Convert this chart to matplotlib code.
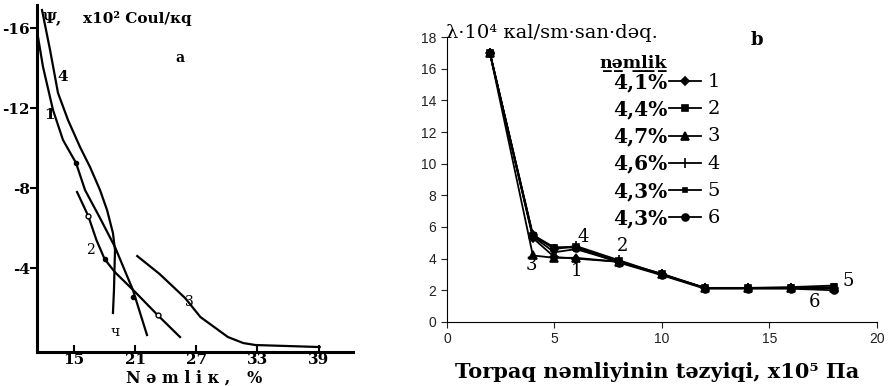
import matplotlib
matplotlib.use('Agg')
import matplotlib.pyplot as plt

# ---- panel a: Psi vs moisture (hand drawn curves) ----
c1_x = [11.27, 11.96, 12.94, 13.92, 15.2, 16.08, 17.55, 19.02, 20.78, 22.16]
c1_y = [-16.15, -14.05, -11.9, -10.4, -9.25, -7.9, -6.5, -5.05, -2.9, -0.65]
c2_x = [15.3, 16.4, 17.2, 18.0, 19.0, 21.0, 23.2, 25.4]
c2_y = [-7.8, -6.6, -5.4, -4.45, -3.8, -2.8, -1.65, -0.55]
c3_x = [21.2, 23.4, 25.9, 27.4, 30.1, 31.6, 32.8, 39.1]
c3_y = [-4.6, -3.7, -2.5, -1.55, -0.55, -0.25, -0.15, -0.05]
c4_x = [11.86, 12.65, 13.43, 14.41, 15.59, 16.57, 17.55, 18.24, 18.82, 19.02, 18.92, 18.82]
c4_y = [-16.9, -14.9, -12.75, -11.4, -10.05, -9.05, -7.9, -6.9, -5.75, -4.9, -2.9, -1.75]
dot_x = [15.2, 18.0, 20.8]
dot_y = [-9.25, -4.45, -2.55]
ring_x = [16.4, 23.2]
ring_y = [-6.6, -1.65]
a_xticks = [15, 21, 27, 33, 39]
a_yticks = [-16, -12, -8, -4]

# ---- panel b: conductivity vs pressure ----
b_x = [2, 4, 5, 6, 8, 10, 12, 14, 16, 18]
s1 = [17, 5.3, 4.1, 4.0, 3.8, 3.0, 2.15, 2.15, 2.15, 2.15]
s2 = [17, 5.4, 4.7, 4.75, 3.85, 3.0, 2.15, 2.15, 2.15, 2.2]
s3 = [17, 4.2, 4.05, 4.05, 3.8, 3.0, 2.15, 2.15, 2.15, 2.15]
s4 = [17, 5.5, 4.6, 4.8, 3.9, 3.0, 2.15, 2.15, 2.15, 2.15]
s5 = [17, 5.4, 4.4, 4.6, 3.8, 3.05, 2.15, 2.15, 2.2, 2.3]
s6 = [17, 5.5, 4.7, 4.7, 3.75, 2.95, 2.1, 2.1, 2.1, 2.0]
moist = ['4,1%', '4,4%', '4,7%', '4,6%', '4,3%', '4,3%']
nums = ['1', '2', '3', '4', '5', '6']

serif = ['DejaVu Serif']
fig = plt.figure(figsize=(8.92, 3.86), dpi=100)

# left panel
ax1 = fig.add_axes([0.0415, 0.088, 0.354, 0.899])
for xs, ys in [(c1_x, c1_y), (c2_x, c2_y), (c3_x, c3_y), (c4_x, c4_y)]:
    ax1.plot(xs, ys, color='black', lw=1.6, solid_joinstyle='round')
ax1.plot(dot_x, dot_y, 'o', color='black', ms=3)
ax1.plot(ring_x, ring_y, 'o', mfc='white', mec='black', ms=3.5, mew=1)
ax1.set_xlim(11.37, 42.35)
ax1.set_ylim(0.2, -17.15)
ax1.spines['top'].set_visible(False)
ax1.spines['right'].set_visible(False)
ax1.spines['left'].set_linewidth(2.2)
ax1.spines['bottom'].set_linewidth(2.2)
ax1.set_xticks(a_xticks)
ax1.set_yticks(a_yticks)
ax1.set_xticklabels([str(v) for v in a_xticks], family=serif, weight='bold', fontsize=11)
ax1.set_yticklabels([str(v) for v in a_yticks], family=serif, weight='bold', fontsize=11)
ax1.tick_params(axis='x', direction='in', length=5, width=1.5, pad=1)
ax1.tick_params(axis='y', direction='out', length=5, width=1.5, pad=0)

ax1.text(13.9, -13.55, '4', family=serif, weight='bold', fontsize=11, ha='center', va='center')
ax1.text(12.6, -11.65, '1', family=serif, weight='bold', fontsize=11, ha='center', va='center')
ax1.text(16.6, -4.9, '2', family=serif, fontsize=10, ha='center', va='center')
ax1.text(26.3, -2.3, '3', family=serif, fontsize=10, ha='center', va='center')
ax1.text(19.0, -0.8, 'ч', family=serif, fontsize=10, ha='center', va='center')
ax1.text(25.4, -14.5, 'a', family=serif, weight='bold', fontsize=10, ha='center', va='center')

fig.text(53 / 892, 1 - 18 / 386, 'Ψ,', family=serif, weight='bold', fontsize=11, ha='center', va='center')
fig.text(83 / 892, 1 - 18 / 386, 'x10² Coul/кq', family=serif, weight='bold', fontsize=11,
         ha='left', va='center')
fig.text(194 / 892, 1 - 378 / 386, 'N ə m l i к ,   %', family=serif, weight='bold', fontsize=11.5,
         ha='center', va='center')

# right panel
ax2 = fig.add_axes([0.501, 0.166, 0.482, 0.738])
styles = [('D', 4), ('s', 5), ('^', 6), ('|', 7), ('s', 3), ('o', 5)]
series = [s1, s2, s3, s4, s5, s6]
for ys, (m, ms), lab in zip(series, styles, moist):
    ax2.plot(b_x, ys, color='black', lw=1.3, marker=m, ms=ms, mew=1.2, label=lab)
ax2.set_xlim(0, 20)
ax2.set_ylim(0, 18)
ax2.set_xticks([0, 5, 10, 15, 20])
ax2.set_yticks(range(0, 19, 2))
ax2.spines['top'].set_visible(False)
ax2.spines['right'].set_visible(False)
ax2.tick_params(labelsize=10, length=4, colors='#222222')
for lbl in ax2.get_xticklabels() + ax2.get_yticklabels():
    lbl.set_family(['Liberation Sans'])

# numbers on the curves
ax2.text(3.95, 3.6, '3', family=serif, fontsize=13, ha='center', va='center')
ax2.text(6.35, 5.35, '4', family=serif, fontsize=13, ha='center', va='center')
ax2.text(6.05, 3.2, '1', family=serif, fontsize=13, ha='center', va='center')
ax2.text(8.15, 4.8, '2', family=serif, fontsize=13, ha='center', va='center')
ax2.text(18.65, 2.6, '5', family=serif, fontsize=13, ha='center', va='center')
ax2.text(17.1, 1.25, '6', family=serif, fontsize=13, ha='center', va='center')

leg = ax2.legend(loc='upper right', bbox_to_anchor=(715 / 892, 1 - 58 / 386), bbox_transform=fig.transFigure,
                 markerfirst=False, frameon=False, prop={'family': serif, 'weight': 'bold', 'size': 14.5},
                 handlelength=1.6, handletextpad=0.05, labelspacing=0.36, borderpad=0.2)
fig.text(633 / 892, 1 - 63 / 386, 'n̲ə̲m̲l̲i̲k̲', family=serif, weight='bold', fontsize=12.5,
         ha='center', va='center')
for i, n in enumerate(nums):
    fig.text(714 / 892, 1 - (82 + 27.2 * i) / 386, n, family=serif, fontsize=14, ha='center', va='center')

fig.text(446 / 892, 1 - 33 / 386, 'λ·10⁴ кal/sm·san·dəq.', family=serif, fontsize=14,
         ha='left', va='center')
fig.text(757 / 892, 1 - 40 / 386, 'b', family=serif, weight='bold', fontsize=13, ha='center', va='center')
fig.text(657 / 892, 1 - 372 / 386, 'Torpaq nəmliyinin təzyiqi, x10⁵ Па', family=serif, weight='bold',
         fontsize=15, ha='center', va='center')

fig.savefig('out.png', dpi=100)
